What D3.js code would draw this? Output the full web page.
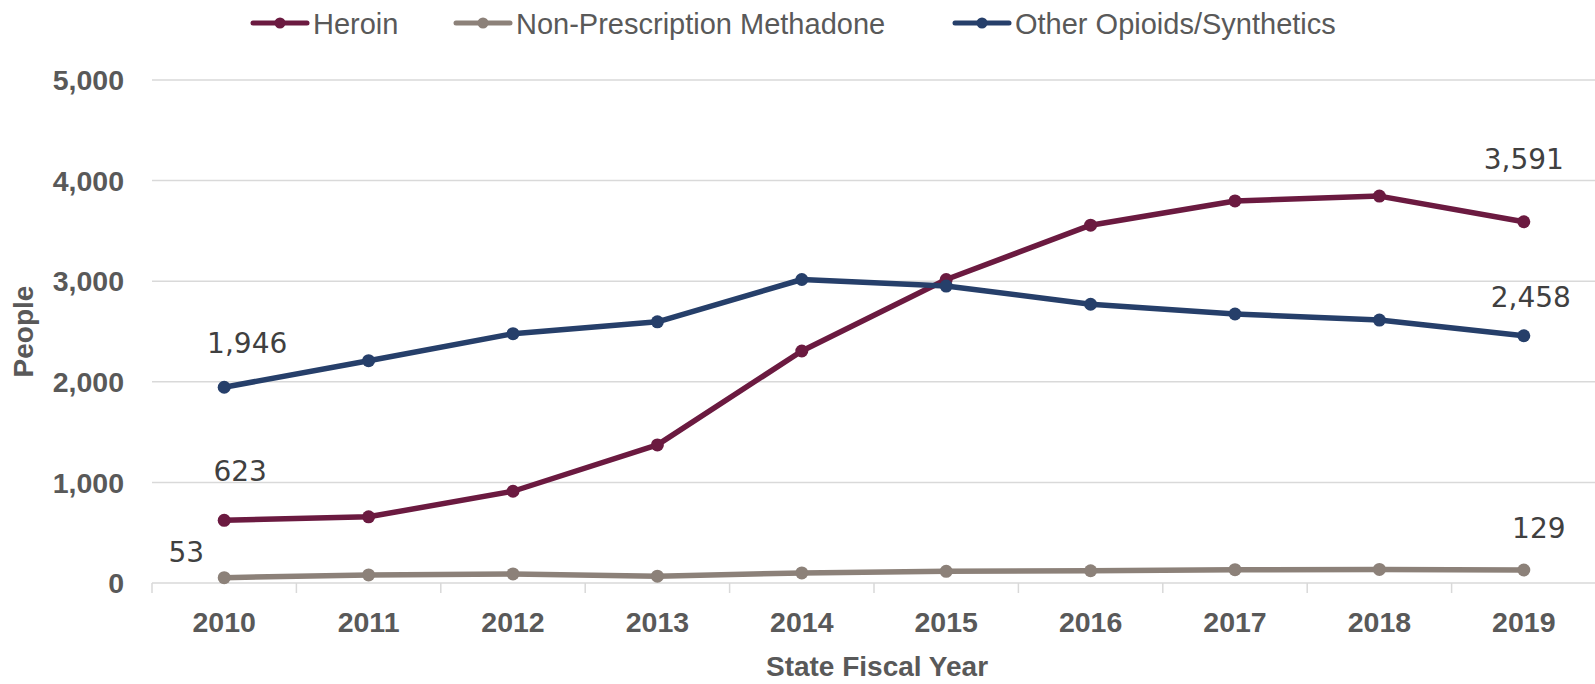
<!DOCTYPE html>
<html>
<head>
<meta charset="utf-8">
<script src="https://cdn.jsdelivr.net/npm/d3@7"></script>
<style>
  html, body { margin: 0; padding: 0; background: #fff; }
  svg { display: block; }
</style>
</head>
<body>
<div id="chart"></div>
<script>
// chart values
const years = ["2010", "2011", "2012", "2013", "2014", "2015", "2016", "2017", "2018", "2019"];
const heroin = [623, 658, 912, 1373, 2306, 3017, 3557, 3798, 3846, 3591];
const methadone = [53, 80, 90, 68, 100, 116, 122, 132, 135, 129];
const otherOpioids = [1946, 2210, 2478, 2596, 3017, 2952, 2771, 2674, 2614, 2458];
const yTicks = [0, 1000, 2000, 3000, 4000, 5000];
const seriesNames = ["Heroin", "Non-Prescription Methadone", "Other Opioids/Synthetics"];

// which points get a value label (series index, year index)
const labelled = [[0, 0], [0, 9], [1, 0], [1, 9], [2, 0], [2, 9]];
// label nudges relative to the point, as placed in the original
const labelNudge = {
  "0-0": [16, -39], "0-9": [0, -53],
  "1-0": [-38, -16], "1-9": [15, -32],
  "2-0": [23, -34], "2-9": [7, -29]
};

const colors = ["#6b1a40", "#8c8179", "#263f6a"];
const allSeries = [heroin, methadone, otherOpioids];

const W = 1595, H = 684;
const margin = {top: 80, left: 152};
const plotW = 1444, plotH = 503;

const svg = d3.select("#chart").append("svg")
    .attr("width", W).attr("height", H)
    .style("font-family", "'Liberation Sans', Arial, sans-serif");

const x = d3.scaleBand().domain(years).range([margin.left, margin.left + plotW]);
const cx = d => x(d) + x.bandwidth() / 2;
const y = d3.scaleLinear().domain([0, 5000]).range([margin.top + plotH, margin.top]);

// gridlines
svg.append("g").selectAll("line").data(yTicks).join("line")
    .attr("x1", margin.left).attr("x2", margin.left + plotW)
    .attr("y1", d => y(d)).attr("y2", d => y(d))
    .attr("stroke", "#d9d9d9").attr("stroke-width", 1.5);

// y axis labels
svg.append("g").selectAll("text").data(yTicks).join("text")
    .attr("x", 124).attr("y", d => y(d))
    .attr("dy", "0.36em")
    .attr("text-anchor", "end")
    .style("font-size", "28.5px").style("font-weight", "bold")
    .style("fill", "#595959")
    .text(d => d3.format(",")(d));

// x axis ticks between categories
const tickPos = years.map(d => x(d)).concat([margin.left + plotW]);
svg.append("g").selectAll("line").data(tickPos).join("line")
    .attr("x1", d => d).attr("x2", d => d)
    .attr("y1", y(0)).attr("y2", y(0) + 10)
    .attr("stroke", "#d9d9d9").attr("stroke-width", 1.5);

svg.append("g").selectAll("text").data(years).join("text")
    .attr("x", d => cx(d)).attr("y", 632)
    .attr("text-anchor", "middle")
    .style("font-size", "28.5px").style("font-weight", "bold")
    .style("fill", "#595959")
    .text(d => d);

// axis titles
svg.append("text")
    .attr("x", margin.left + plotW / 2 + 3).attr("y", 676)
    .attr("text-anchor", "middle")
    .style("font-size", "28px").style("font-weight", "bold")
    .style("fill", "#595959")
    .text("State Fiscal Year");

svg.append("text")
    .attr("transform", `translate(33, ${margin.top + plotH / 2}) rotate(-90)`)
    .attr("text-anchor", "middle")
    .style("font-size", "28px").style("font-weight", "bold")
    .style("fill", "#595959")
    .text("People");

// lines and markers
const line = d3.line().x((d, i) => cx(years[i])).y(d => y(d));

allSeries.forEach((vals, s) => {
    const g = svg.append("g");
    g.append("path")
        .attr("d", line(vals))
        .attr("fill", "none")
        .attr("stroke", colors[s])
        .attr("stroke-width", 5.5)
        .attr("stroke-linejoin", "round");
    g.selectAll("circle").data(vals).join("circle")
        .attr("cx", (d, i) => cx(years[i]))
        .attr("cy", d => y(d))
        .attr("r", 6.5)
        .attr("fill", colors[s]);
});

// value labels
svg.append("g").selectAll("text").data(labelled).join("text")
    .attr("x", d => cx(years[d[1]]) + labelNudge[d.join("-")][0])
    .attr("y", d => y(allSeries[d[0]][d[1]]) + labelNudge[d.join("-")][1])
    .attr("text-anchor", "middle")
    .style("font-family", "'DejaVu Sans', sans-serif")
    .style("font-size", "28px")
    .style("fill", "#404040")
    .text(d => d3.format(",")(allSeries[d[0]][d[1]]));

// legend
const legendX = [280, 483, 982];
const legend = svg.append("g");
seriesNames.forEach((name, i) => {
    const item = legend.append("g").attr("transform", `translate(${legendX[i]}, 23)`);
    item.append("line")
        .attr("x1", -27).attr("x2", 27)
        .attr("stroke", colors[i]).attr("stroke-width", 5)
        .attr("stroke-linecap", "round");
    item.append("circle").attr("r", 5.5).attr("fill", colors[i]);
    item.append("text")
        .attr("x", 33).attr("y", 10.5)
        .style("font-size", "29px")
        .style("fill", "#595959")
        .text(name);
});
</script>
</body>
</html>
